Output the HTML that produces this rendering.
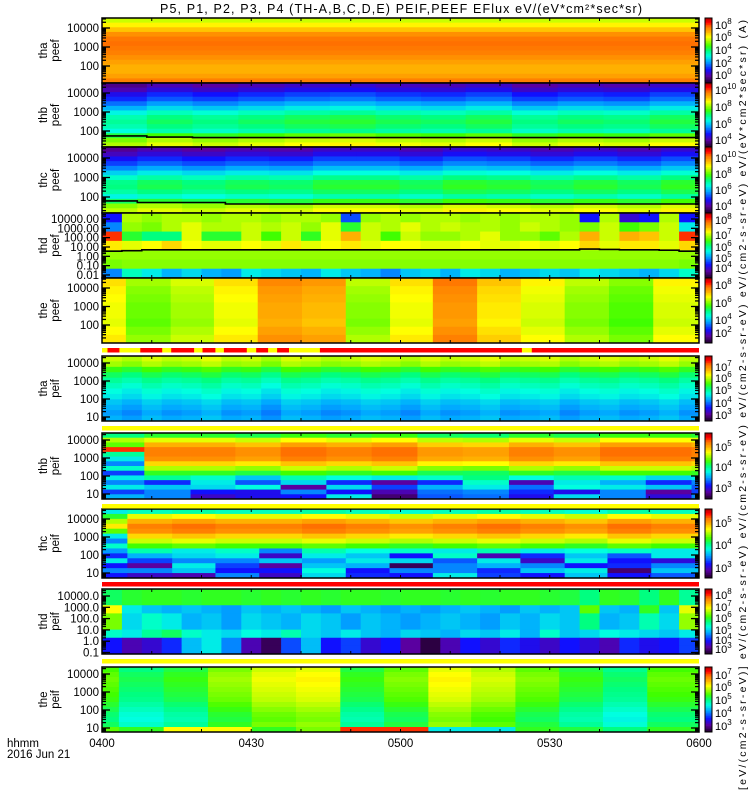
<!DOCTYPE html>
<html><head><meta charset="utf-8">
<style>
html,body{margin:0;padding:0;background:#fff;}
svg{display:block;font-family:"Liberation Sans",sans-serif;}
</style></head>
<body>
<svg id="chart" width="750" height="800" viewBox="0 0 750 800" xmlns="http://www.w3.org/2000/svg">
<rect x="0" y="0" width="750" height="800" fill="#fff"/>
<text x="401" y="13" font-size="12.5" text-anchor="middle" textLength="482">P5, P1, P2, P3, P4 (TH-A,B,C,D,E) PEIF,PEEF EFlux eV/(eV*cm²*sec*sr)</text>
<g id="plots"></g>
<text x="7" y="747" font-size="11.5">hhmm</text>
<text x="7" y="758" font-size="11.5">2016 Jun 21</text>
<text transform="translate(746,790) rotate(-90)" font-size="10.5" textLength="770">[eV/(cm2-s-sr-eV)] eV/(cm2-s-sr-eV) eV/(cm2-s-sr-eV) eV/(cm2-s-sr-eV) eV/(cm2-s-sr-eV) eV/(eV*cm2*sec*sr) (A)</text>
</svg>
<script>
// ---------- data ----------
const xTickLabels=['0400','0430','0500','0530','0600'];
const xTickMinutes=[0,30,60,90,120];
// P1 tha peef
const p1Bounds=[0,120];
const p1Profile=[68,73,78,84,87,88,87,86,84,82,80,80,82,86];
const p1Shift=[0];
// P2 thb peef
const p2Bounds=[0,9,18.2,27.4,36.7,45.8,55,64.1,73.1,82.4,91.6,100.8,110.1,120];
const p2Profile=[12,16,22,26,32,38,45,50,52,50,46,58,66,70];
const p2Shift=[-4,0,-2,0,2,3,1,0,2,-2,0,-1,2];
const p2Line=[55,48,45,45,45,45,45,45,45,45,45,45,45];
// P3 thc peef
const p3Bounds=[0,7.1,16.1,24.8,33.6,42.4,51.1,59.8,68.5,77.3,86.1,94.8,103.6,112.4,120];
const p3Profile=[12,16,22,27,33,40,47,52,53,50,44,55,66,70];
const p3Shift=[-3,0,-2,0,-1,2,2,0,3,2,0,2,0,3];
const p3Line=[63,52,52,44,44,44,44,44,44,44,44,44,44,44];
// P4 thd peef (30 columns of 4 min)
const p4Bounds=[0,4,8,12,16,20,24,28,32,36,40,44,48,52,56,60,64,68,72,76,80,84,88,92,96,100,104,108,112,116,120];
const p4Top=[20,66,64,66,66,64,66,66,64,66,66,64,25,64,66,64,66,66,64,66,64,66,66,64,20,66,15,20,66,20];
const p4Upper=[30,64,62,66,70,66,66,68,66,68,64,70,55,68,66,70,66,68,66,66,64,68,66,64,62,68,58,62,68,40];
const p4Mid=[92,55,50,50,70,55,55,68,58,68,56,70,80,68,58,68,64,64,66,70,64,64,60,66,80,68,80,78,68,92];
const p4Low=[74,70,72,76,72,70,70,72,70,74,70,72,74,70,72,72,70,70,72,70,70,72,70,72,76,70,74,74,70,76];
const p4Below=[64,64,64,64,64,64,64,64,64,64,64,64,64,64,64,64,64,64,64,64,64,64,64,64,64,64,64,64,64,64];
const p4Below2=[62,63,63,63,63,63,63,63,63,63,63,63,63,63,63,63,63,63,63,63,63,63,63,63,63,63,63,63,63,62];
const p4Bottom=[30,45,40,34,38,34,32,40,38,36,34,40,36,34,30,36,38,34,40,38,34,36,38,36,40,38,36,34,38,44];
const p4Line=[3.5,4,5,5,5,5,5,5,5,5,5,5,5,5,5,5,5,5,5,5,5,5,5,5,6,5.5,5,5,4.5,3.5];
// P5 the peef
const p5Bounds=[0,4.8,13.8,22.5,31.3,40.2,49,57.9,66.5,75.4,84.2,93,101.9,110.8,120];
const p5Level=[72,62,66,72,82,80,64,72,84,75,70,64,60,70];
const p5Profile=[3,1,0,-1,-1,-2,0,2];
const p5RedStart=[1.1,7.7,13.9,20.2,24.5,31.0,35.2,43.8,86.4];
const p5RedEnd=[3.5,12.1,18.5,22.8,29.1,33.4,37.6,84.4,120];
// P6 tha peif
const p6Bounds=[0,4,8,12,16,20,24,28,32,36,40,44,48,52,56,60,64,68,72,76,80,84,88,92,96,100,104,108,112,116,120];
const p6Profile=[68,65,57,52,48,45,42,40,36,34,32,34];
const p6Var=[0,-2,1,-1,0,2,-1,0,-3,1,0,-2,-1,1,0,-2,1,-1,0,2,-1,0,1,-2,0,1,-1,0,2,-1];
// P7 thb peif
const p7Bounds=[0,8.5,17.8,26.8,35.9,45.1,54.2,63.4,72.5,81.8,90.8,100.1,109.3,118.5,120];
const p7Profile=[55,70,80,86,86,84,76,66,56];
const p7Shift=[0,0,0,-2,2,0,2,-3,-4,0,-2,2,2,0];
const p7First=[50,66,60,92,48,40,30,44,24];
const p7Row9=[40,48,44,36,46,42,40,44,50,42,46,44,38,40];
const p7Row10=[30,22,40,26,38,22,10,22,44,12,40,34,22,30];
const p7Row11=[40,36,38,42,10,38,24,34,40,28,42,40,36,26];
const p7Row12=[24,30,20,18,30,20,12,28,30,22,18,30,10,24];
const p7Row13=[34,30,14,18,20,40,6,26,28,18,38,30,16,30];
// P8 thc peif
const p8Bounds=[0,5.1,14.1,22.8,31.6,40.2,49,57.8,66.5,75.4,84.1,93,101.6,110.4,120];
const p8Profile=[45,70,80,86,84,76,68,58];
const p8Shift=[0,0,2,0,0,2,0,-2,0,2,0,-2,2,0];
const p8First=[40,55,66,74,60,40,30,44];
const p8Row8=[32,46,40,44,30,46,42,44,40,46,40,42,44,40];
const p8Row9=[22,34,38,40,14,40,36,20,44,12,22,36,26,40];
const p8Row10=[40,24,30,30,36,32,40,38,26,40,14,40,20,16];
const p8Row11=[20,10,40,24,10,36,34,4,30,34,30,20,22,30];
const p8Row12=[30,30,36,20,20,42,20,30,30,22,36,40,6,36];
const p8Row13=[20,14,12,30,14,38,22,20,40,24,20,36,20,26];
// P9 thd peif
const p9Bounds=[0,4,8,12,16,20,24,28,32,36,40,44,48,52,56,60,64,68,72,76,80,84,88,92,96,100,104,108,112,116,120];
const p9Top=[52,55,56,56,55,56,56,55,56,55,56,55,56,56,55,56,56,55,56,55,56,56,55,54,50,56,55,50,56,48];
const p9Upper=[72,40,36,34,36,34,32,36,34,36,34,32,36,34,32,34,32,34,36,34,32,36,34,36,60,36,34,56,36,70];
const p9Mid=[62,38,44,40,34,36,32,38,36,34,38,36,32,36,34,32,34,36,34,32,36,34,38,36,50,34,36,46,38,64];
const p9Low=[44,40,48,52,44,40,38,42,40,46,38,36,40,36,34,38,36,34,38,36,40,34,44,36,38,42,40,38,36,40];
const p9Bottom=[20,12,15,22,35,40,30,12,4,25,35,20,24,15,20,10,2,12,20,15,22,18,14,20,16,12,22,18,20,24];
// P10 the peif
const p10Bounds=[0,3.4,12.4,21.3,30.1,39,47.9,56.7,65.6,74.2,83.1,91.9,100.7,109.6,120];
const p10Level=[58,50,54,62,68,70,54,60,70,66,60,54,49,58];
const p10Profile=[0,2,3,2,1,0,-1,-3,-5,-7,-8,-6];
const p10BottomRow=[60,56,72,72,56,62,92,92,40,40,56,54,50,56];

// ---------- layout ----------
const X0=102,X1=699;
function xOf(m){return X0+(X1-X0)*m/120;}
const stops=[[0,[32,0,42]],[10,[90,0,160]],[20,[16,16,255]],[33,[0,170,255]],[42,[0,255,224]],[50,[0,255,128]],[58,[64,255,0]],[66,[176,255,0]],[72,[255,255,0]],[80,[255,176,0]],[88,[255,112,0]],[95,[255,0,0]],[100,[192,0,0]]];
function col(v){v=Math.max(0,Math.min(100,v));for(let i=1;i<stops.length;i++){if(v<=stops[i][0]){const a=stops[i-1],b=stops[i];const t=(v-a[0])/(b[0]-a[0]);const c=a[1].map((q,k)=>Math.round(q+(b[1][k]-q)*t));return 'rgb('+c.join(',')+')';}}return 'rgb(192,0,0)';}
const NS='http://www.w3.org/2000/svg';
const root=document.getElementById('plots');
function mk(tag,attrs,parent){const e=document.createElementNS(NS,tag);for(const k in attrs)e.setAttribute(k,attrs[k]);(parent||root).appendChild(e);return e;}
function fromProfile(profile,shift){return profile.map(p=>shift.map(s=>p+s));}

const m1=fromProfile(p1Profile,p1Shift);
const m2=fromProfile(p2Profile,p2Shift);
const m3=fromProfile(p3Profile,p3Shift);
const m4=[p4Top,p4Upper,p4Mid,p4Low,p4Below,p4Below2,p4Bottom];
const m5=p5Profile.map(p=>p5Level.map(l=>l+p));
const m6=p6Profile.map(p=>p6Var.map(v=>p+v));
const m7=fromProfile(p7Profile,p7Shift);p7First.forEach((v,r)=>{m7[r][0]=v;});
m7.push(p7Row9,p7Row10,p7Row11,p7Row12,p7Row13);
const m8=fromProfile(p8Profile,p8Shift);p8First.forEach((v,r)=>{m8[r][0]=v;});
m8.push(p8Row8,p8Row9,p8Row10,p8Row11,p8Row12,p8Row13);
const m9=[p9Top,p9Top,p9Upper,p9Mid,p9Mid,p9Low,p9Bottom,p9Bottom];
const m10=p10Profile.map(p=>p10Level.map(l=>l+p));m10.push(p10BottomRow);

const panels=[
 {id:'tha-peef',a:'tha',b:'peef',y0:18,y1:83,bounds:p1Bounds,m:m1,top:28,ppd:19,labels:['10000','1000','100'],cb:['8','6','4','2','0'],cbY:[25,37,50,63,75]},
 {id:'thb-peef',a:'thb',b:'peef',y0:83,y1:147,bounds:p2Bounds,m:m2,top:93,ppd:19,labels:['10000','1000','100'],cb:['10','8','6','4'],cbY:[90,107,124,140],line:p2Line},
 {id:'thc-peef',a:'thc',b:'peef',y0:147,y1:213,bounds:p3Bounds,m:m3,top:158,ppd:19.5,labels:['10000','1000','100'],cb:['10','8','6','4'],cbY:[158,174,190,206],line:p3Line},
 {id:'thd-peef',a:'thd',b:'peef',y0:213,y1:278,bounds:p4Bounds,m:m4,top:219,ppd:9.33,labels:['10000.00','1000.00','100.00','10.00','1.00','0.10','0.01'],cb:['8','7','6','5','4'],cbY:[220,235,247,258,268],line:p4Line},
 {id:'the-peef',a:'the',b:'peef',y0:278,y1:343,bounds:p5Bounds,m:m5,top:288,ppd:18.5,labels:['10000','1000','100'],cb:['8','6','4','2'],cbY:[285,303,320,333]},
 {id:'tha-peif',a:'tha',b:'peif',y0:356,y1:421,bounds:p6Bounds,m:m6,top:363,ppd:18,labels:['10000','1000','100','10'],cb:['7','6','5','4','3'],cbY:[367,378,390,403,415]},
 {id:'thb-peif',a:'thb',b:'peif',y0:433,y1:499,bounds:p7Bounds,m:m7,top:440,ppd:18,labels:['10000','1000','100','10'],cb:['5','4','3'],cbY:[447,467,488]},
 {id:'thc-peif',a:'thc',b:'peif',y0:509,y1:578,bounds:p8Bounds,m:m8,top:519,ppd:18,labels:['10000','1000','100','10'],cb:['5','4','3'],cbY:[523,545,568]},
 {id:'thd-peif',a:'thd',b:'peif',y0:589,y1:654,bounds:p9Bounds,m:m9,top:596,ppd:11.3,labels:['10000.0','1000.0','100.0','10.0','1.0','0.1'],cb:['8','7','6','5','4','3'],cbY:[595,607,618,630,640,649]},
 {id:'the-peif',a:'the',b:'peif',y0:667,y1:732,bounds:p10Bounds,m:m10,top:674,ppd:18,labels:['10000','1000','100','10'],cb:['7','6','5','4','3'],cbY:[675,687,700,713,726]}
];

panels.forEach(p=>{
 const g=mk('g',{});
 
 
 const rows=p.m.length,h=(p.y1-p.y0)/rows;
 for(let r=0;r<rows;r++){
  for(let b=0;b<p.bounds.length-1;b++){
   const x=xOf(p.bounds[b]),w=xOf(p.bounds[b+1])-x;
   const c=mk('rect',{x:x.toFixed(2),y:(p.y0+r*h).toFixed(2),width:(w+0.4).toFixed(2),height:(h+0.4).toFixed(2),fill:col(p.m[r][b])},g);
   
   
  }
 }
 const eY=E=>p.top+(4-Math.log10(E))*p.ppd;
 if(p.line){
  let d='';
  for(let b=0;b<p.bounds.length-1;b++){const y=eY(p.line[b]).toFixed(1);d+=(b?'L':'M')+xOf(p.bounds[b]).toFixed(1)+','+y+'L'+xOf(p.bounds[b+1]).toFixed(1)+','+y;}
  const l=mk('path',{d:d,fill:'none',stroke:'#000','stroke-width':1.6},g);
  
  
 }
 for(let dec=-3;dec<=5;dec++){
  for(let k=1;k<10;k++){
   const y=eY(k*Math.pow(10,dec));
   if(y<p.y0+0.5||y>p.y1-0.5)continue;
   const len=k===1?8:4;
   mk('line',{x1:X0,x2:X0+len,y1:y,y2:y,stroke:'#000','stroke-width':1.3},g);
   mk('line',{x1:X1-len,x2:X1,y1:y,y2:y,stroke:'#000','stroke-width':1.3},g);
  }
 }
 p.labels.forEach((t,i)=>{
  const lab=mk('text',{x:99,y:(p.top+i*p.ppd+4).toFixed(1),'font-size':11.5,'text-anchor':'end'},g);
  lab.textContent=t;
  
  
 });
 for(let m=10;m<120;m+=10){const x=xOf(m);mk('line',{x1:x,x2:x,y1:p.y0,y2:p.y0+3,stroke:'#000'},g);mk('line',{x1:x,x2:x,y1:p.y1-3,y2:p.y1,stroke:'#000'},g);}
 const fr=mk('rect',{x:X0,y:p.y0,width:X1-X0,height:p.y1-p.y0,fill:'none',stroke:'#000','stroke-width':1.5},g);
 
 
 const cy=(p.y0+p.y1)/2;
 const ya=mk('text',{transform:'translate(47,'+cy+') rotate(-90)','font-size':11.5,'text-anchor':'middle'},g);
 ya.textContent=p.a;
 
 
 const yb=mk('text',{transform:'translate(59,'+cy+') rotate(-90)','font-size':11.5,'text-anchor':'middle'},g);
 yb.textContent=p.b;
 
 
 const cbg=mk('g',{},g);
 
 
 const n=40,ch=(p.y1-p.y0)/n;
 for(let i=0;i<n;i++){mk('rect',{x:705,y:(p.y1-(i+1)*ch).toFixed(2),width:7,height:(ch+0.4).toFixed(2),fill:col(i*100/(n-1))},cbg);}
 mk('rect',{x:705,y:p.y0,width:7,height:p.y1-p.y0,fill:'none',stroke:'#000','stroke-width':1},cbg);
 p.cb.forEach((e,i)=>{
  const t=mk('text',{x:715,y:p.cbY[i]+4,'font-size':11},cbg);
  t.textContent='10';
  const s=mk('tspan',{dy:-5,'font-size':8},t);s.textContent=e;
  
  
 });
});

function bar(y,colr,name){const r=mk('rect',{x:X0,y:y,width:X1-X0,height:4.5,fill:colr});return r;}
bar(348,'#ffff00','the-peef-mode-bar');
p5RedStart.forEach((s,i)=>{
 const r=mk('rect',{x:xOf(s).toFixed(1),y:348,width:(xOf(p5RedEnd[i])-xOf(s)).toFixed(1),height:4.5,fill:'#ff0000'});
 
 
});
bar(426,'#ffff00','tha-peif-mode-bar');
bar(504,'#ffff00','thb-peif-mode-bar');
bar(582,'#ff0000','thc-peif-mode-bar');
bar(659,'#ffff00','thd-peif-mode-bar');

xTickLabels.forEach((t,i)=>{
 const e=mk('text',{x:xOf(xTickMinutes[i]),y:747,'font-size':11.5,'text-anchor':'middle'});
 e.textContent=t;
 
 
});
</script>
</body></html>
